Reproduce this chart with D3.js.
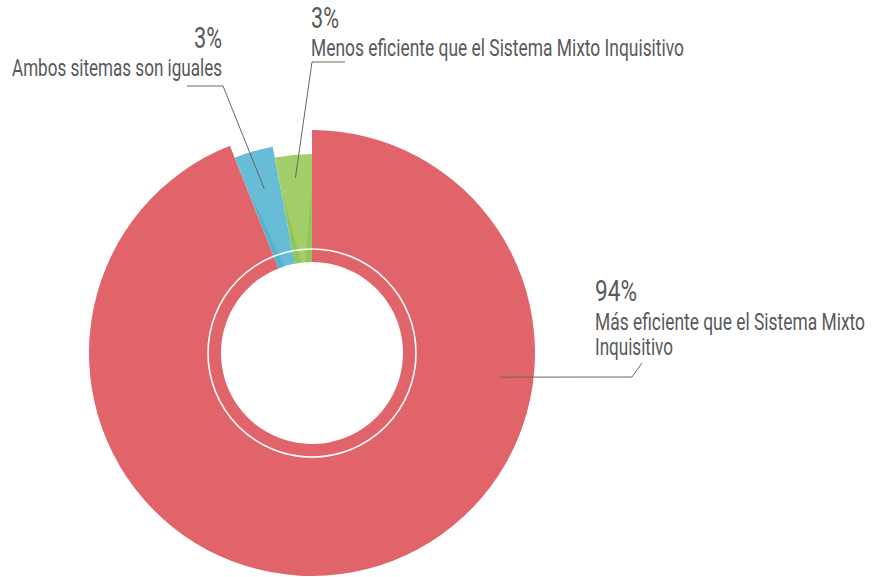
<!DOCTYPE html>
<html lang="es">
  <head>
    <meta charset="utf-8" />
    <title>Eficiencia del sistema</title>
    <script src="https://d3js.org/d3.v7.min.js"></script>
    <style>
      body { margin: 0; background: #fff; }
      text { font-family: Roboto, "Liberation Sans", sans-serif; fill: #58595b; }
    </style>
  </head>
  <body>
    <div id="chart"></div>
    <script>
      // data
      const categories = [
        "Más eficiente que el Sistema Mixto Inquisitivo",
        "Ambos sitemas son iguales",
        "Menos eficiente que el Sistema Mixto Inquisitivo",
      ];
      const values = [94, 3, 3];
      const pctLabels = ["94%", "3%", "3%"];
      const labelLines = [
        ["Más eficiente que el Sistema Mixto", "Inquisitivo"],
        ["Ambos sitemas son iguales"],
        ["Menos eficiente que el Sistema Mixto Inquisitivo"],
      ];

      // styles / layout
      const colors = ["#e0646a", "#67bcd6", "#a2cf6a"];
      const shades = ["#c95559", "#52aecb", "#8cc256"];
      const outerR = [223, 210, 199];
      const W = 873, H = 577, cx = 312, cy = 353, innerR = 91;
      // condensed look: squeeze text to the widths seen in the reference
      const labelPos = [
        { x: 595, y: 301, anchor: "start", pctW: 42, lineW: [270, 78], lineY: [330, 355] },
        { x: 222, y: 48, anchor: "end", pctW: 28, lineW: [210], lineY: [76] },
        { x: 311, y: 28, anchor: "start", pctW: 28, lineW: [373], lineY: [56] },
      ];
      // leader: anchor in slice (angle deg, radius), elbow, end
      const leaders = [
        { a: 97.3, r: 190, elbow: [632, 377], end: [642, 363] },
        { a: null, r: 171, elbow: [223, 86], end: [187, 86] },
        { a: null, r: 176, elbow: [312, 62], end: [345, 62] },
      ];

      const svg = d3.select("#chart").append("svg").attr("width", W).attr("height", H);
      const g = svg.append("g").attr("transform", `translate(${cx},${cy})`);

      const pie = d3.pie().sort(null).value((d) => d);
      const arcs = pie(values);

      g.selectAll("path.slice")
        .data(arcs)
        .enter()
        .append("path")
        .attr("class", "slice")
        .attr("fill", (d, i) => colors[i])
        .attr("d", (d, i) => d3.arc().innerRadius(innerR).outerRadius(outerR[i])(d));

      // darker inner edges on small slices
      const pt = (ang, r) => [Math.sin(ang) * r, -Math.cos(ang) * r];
      const rad = Math.PI / 180;
      arcs.forEach((d, i) => {
        if (i === 0) return;
        const sides = i === 1 ? [1] : [1, -1];
        sides.forEach((s) => {
          const a0 = s > 0 ? d.startAngle : d.endAngle;
          const a1 = a0 + s * 4 * rad;
          const p = [pt(a0, innerR), pt(a1, innerR), pt(a0 + s * 0.3 * rad, outerR[i] * 0.82)];
          g.append("path")
            .attr("d", "M" + p.map((q) => q.join(",")).join("L") + "Z")
            .attr("fill", shades[i])
            .attr("opacity", 0.8);
        });
      });

      // white ring
      g.append("circle").attr("r", 104).attr("fill", "none").attr("stroke", "#fff").attr("stroke-width", 1.6);

      // leader lines
      leaders.forEach((l, i) => {
        const d = arcs[i];
        const ang = l.a === null ? (d.startAngle + d.endAngle) / 2 : l.a * rad;
        const s = pt(ang, l.r);
        svg.append("polyline")
          .attr("points", [[s[0] + cx, s[1] + cy], l.elbow, l.end].map((q) => q.join(",")).join(" "))
          .attr("fill", "none")
          .attr("stroke", "#666")
          .attr("stroke-width", 1);
      });

      // labels
      labelPos.forEach((p, i) => {
        svg.append("text")
          .attr("x", p.x).attr("y", p.y)
          .attr("text-anchor", p.anchor)
          .attr("textLength", p.pctW).attr("lengthAdjust", "spacingAndGlyphs")
          .style("font-size", "29px").style("font-weight", 400)
          .text(pctLabels[i]);
        labelLines[i].forEach((line, j) => {
          svg.append("text")
            .attr("x", p.x).attr("y", p.lineY[j])
            .attr("text-anchor", p.anchor)
            .attr("textLength", p.lineW[j]).attr("lengthAdjust", "spacingAndGlyphs")
            .style("font-size", "24px")
            .text(line);
        });
      });
    </script>
  </body>
</html>
